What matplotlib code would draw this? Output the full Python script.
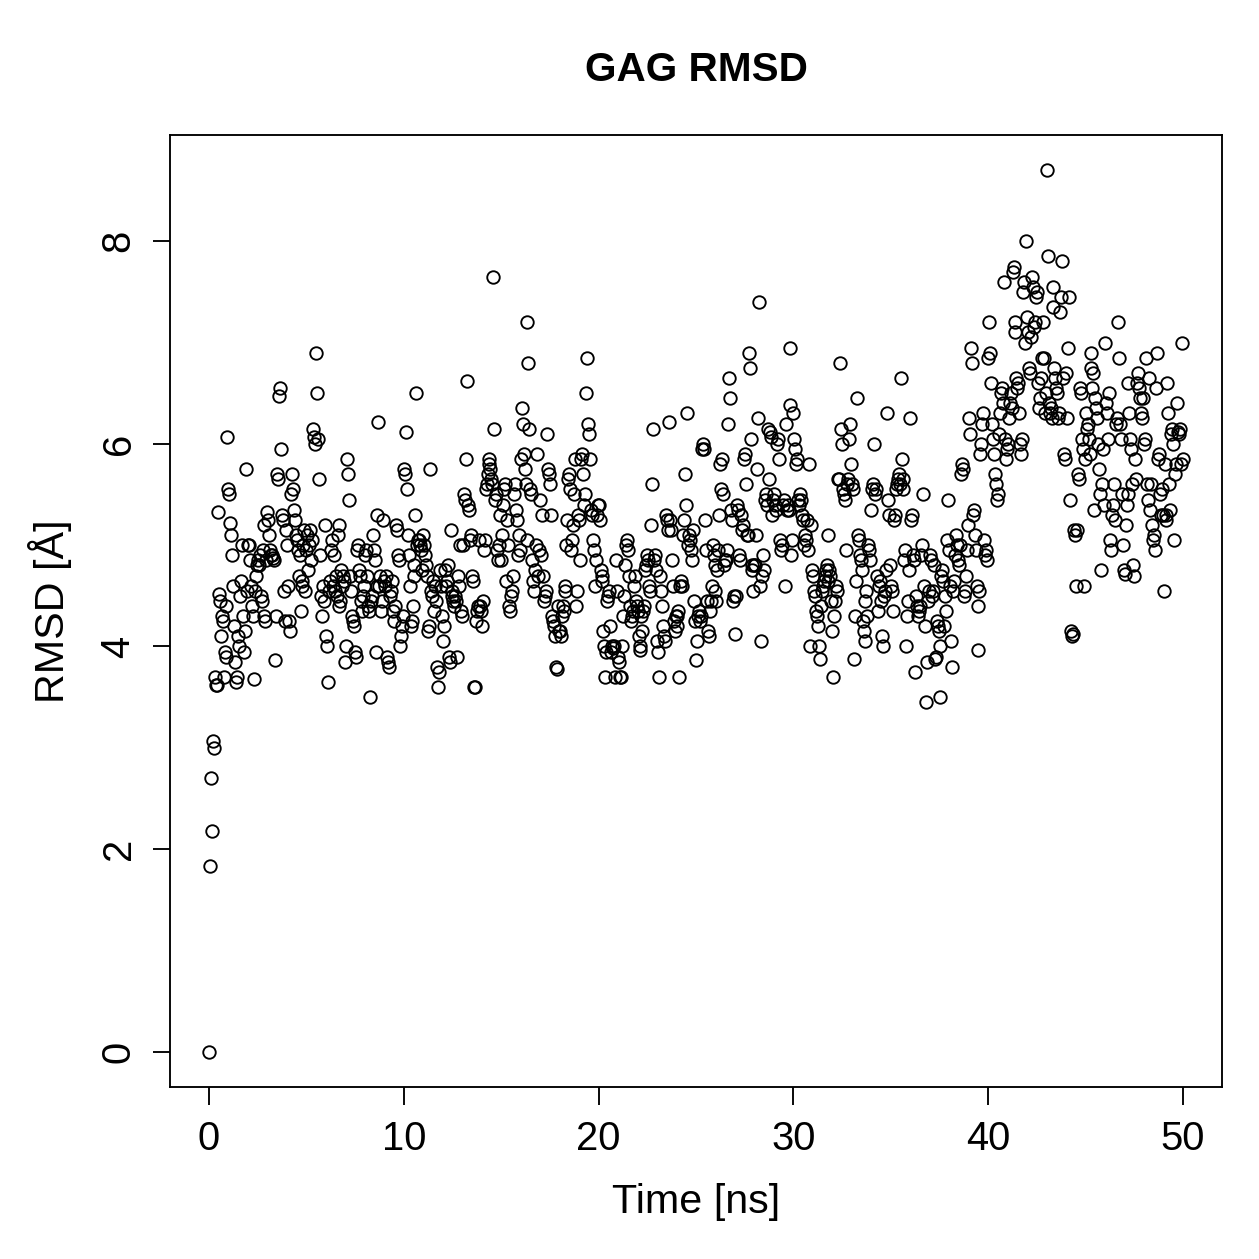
import numpy as np
import matplotlib
matplotlib.use("Agg")
import matplotlib.pyplot as plt

plt.rcParams['font.family'] = ['Liberation Sans', 'DejaVu Sans']

title = "GAG RMSD"
xlabel = "Time [ns]"
ylabel = "RMSD [Å]"
x_ticks = [0, 10, 20, 30, 40, 50]
y_ticks = [0, 2, 4, 6, 8]
frame_step_ns = 0.05

# RMSD values, one row per nanosecond (frames every 0.05 ns)
rmsd_00_10 = [
    [0, 1.83, 2.7, 2.18, 3.07, 3.0, 3.7, 3.62, 3.62, 5.33, 4.52, 4.45, 4.1, 4.3, 4.25, 3.7, 3.95, 3.9, 4.4, 6.07],
    [5.55, 5.5, 5.22, 5.1, 4.9, 4.6, 4.2, 3.85, 3.65, 3.7, 4.1, 4.0, 4.5, 4.65, 5.0, 4.3, 3.95, 4.15, 5.75, 4.55],
    [5.0, 5.0, 4.85, 4.6, 4.4, 4.3, 3.68, 4.55, 4.7, 4.8, 4.85, 4.8, 4.9, 4.5, 4.45, 4.95, 5.2, 4.3, 4.25, 4.85],
    [5.33, 5.25, 5.1, 4.95, 4.9, 4.9, 4.87, 4.85, 3.87, 4.3, 5.7, 5.65, 6.47, 6.55, 5.95, 5.3, 5.25, 4.55, 4.25, 5.15],
    [5.0, 4.6, 4.25, 4.15, 5.5, 5.7, 5.55, 5.35, 5.25, 5.1, 5.05, 4.95, 4.7, 4.9, 4.35, 4.65, 4.6, 5.0, 5.15, 4.55],
    [4.95, 5.1, 4.75, 5.0, 5.15, 4.85, 5.05, 6.15, 6.07, 6.0, 6.9, 6.5, 6.05, 5.65, 4.9, 4.5, 4.3, 4.6, 4.45, 5.2],
    [4.1, 4.0, 3.65, 4.55, 4.65, 4.95, 5.05, 4.6, 4.9, 4.55, 4.7, 4.5, 5.1, 5.2, 4.4, 4.45, 4.75, 4.6, 4.7, 4.65],
    [3.85, 4.0, 5.85, 5.7, 5.45, 4.7, 4.55, 4.3, 4.25, 4.2, 3.95, 3.9, 4.95, 5.0, 4.75, 4.7, 4.45, 4.35, 4.5, 4.6],
    [4.9, 4.95, 4.7, 4.4, 4.35, 3.5, 4.45, 4.5, 5.1, 4.95, 4.85, 3.95, 4.6, 5.3, 6.22, 4.6, 4.7, 4.35, 4.45, 5.25],
    [4.65, 4.6, 4.7, 3.9, 3.85, 3.8, 4.5, 4.55, 4.65, 4.35, 4.25, 4.4, 5.2, 5.15, 4.9, 4.85, 4.0, 4.1, 4.2, 4.3],
]
rmsd_10_20 = [
    [5.75, 5.7, 6.12, 5.55, 5.1, 4.9, 4.6, 4.2, 4.25, 4.4, 4.8, 4.7, 5.3, 6.5, 5.0, 5.05, 5.05, 5.0, 4.95, 4.75],
    [5.1, 5.0, 4.9, 4.8, 4.7, 4.15, 4.2, 5.75, 4.55, 4.5, 4.65, 4.35, 4.6, 4.45, 3.8, 3.6, 3.75, 4.75, 4.6, 4.3],
    [4.05, 4.2, 4.75, 4.6, 4.65, 4.8, 3.9, 3.85, 5.15, 4.5, 4.55, 4.45, 4.4, 4.5, 4.45, 3.9, 4.7, 4.6, 5.0, 4.35],
    [4.3, 5.0, 5.5, 5.45, 5.85, 6.62, 5.4, 5.35, 5.05, 5.1, 4.7, 4.65, 3.6, 3.6, 4.25, 4.35, 4.4, 5.05, 4.4, 4.35],
    [4.2, 4.45, 4.95, 5.05, 5.55, 5.6, 5.7, 5.8, 5.85, 5.75, 5.65, 5.6, 7.65, 6.15, 5.45, 5.5, 4.95, 4.85, 5.0, 5.3],
    [4.85, 5.1, 5.4, 5.55, 5.6, 4.65, 5.25, 5.0, 4.4, 4.35, 4.5, 4.55, 4.7, 5.5, 5.6, 5.35, 5.25, 4.9, 5.1, 4.95],
    [5.85, 6.35, 6.2, 5.9, 5.75, 5.6, 5.05, 7.2, 6.8, 6.15, 5.55, 5.5, 4.85, 4.65, 4.55, 4.75, 5.0, 5.9, 4.7, 4.95],
    [5.45, 4.9, 5.3, 4.7, 4.45, 4.5, 4.55, 6.1, 5.75, 5.7, 5.6, 5.3, 4.3, 4.25, 4.2, 4.1, 3.8, 3.78, 4.4, 4.15],
    [4.15, 4.1, 4.3, 4.4, 4.35, 4.6, 4.55, 5.0, 5.25, 5.65, 5.7, 5.55, 4.95, 5.05, 5.2, 5.5, 5.85, 4.4, 4.55, 5.3],
    [5.25, 4.85, 5.85, 5.9, 5.7, 5.4, 5.5, 6.5, 6.85, 6.2, 6.1, 5.85, 5.35, 5.3, 5.05, 4.95, 4.6, 4.85, 5.3, 5.4],
]
rmsd_20_30 = [
    [5.4, 5.25, 4.75, 4.65, 4.7, 4.15, 4.0, 3.7, 3.95, 4.45, 4.5, 4.55, 4.2, 3.95, 4.0, 3.98, 4.0, 3.7, 4.85, 4.55],
    [3.9, 3.85, 3.7, 3.7, 4.0, 4.3, 4.5, 4.8, 5.0, 5.05, 4.95, 4.7, 4.4, 4.25, 4.3, 4.35, 4.6, 4.7, 4.45, 4.4],
    [4.35, 4.1, 3.97, 4.0, 4.3, 4.15, 4.35, 4.4, 4.75, 4.8, 4.9, 4.85, 4.6, 4.55, 5.2, 5.6, 6.15, 4.85, 4.9, 4.75],
    [4.05, 3.95, 3.7, 4.7, 4.55, 4.4, 4.2, 4.1, 4.05, 5.3, 5.25, 5.15, 6.22, 5.25, 5.15, 4.85, 4.6, 4.25, 4.15, 4.3],
    [4.2, 4.3, 4.35, 3.7, 4.6, 4.65, 4.6, 5.1, 5.25, 5.7, 5.4, 6.3, 5.0, 5.1, 5.05, 4.95, 4.85, 5.15, 4.45, 4.25],
    [3.87, 4.05, 4.3, 4.35, 4.25, 4.3, 5.95, 6.0, 5.95, 5.25, 4.95, 4.45, 4.15, 4.1, 4.35, 4.45, 4.6, 5.0, 4.9, 4.8],
    [4.55, 4.45, 4.75, 4.95, 5.3, 5.8, 5.55, 5.85, 5.5, 4.8, 4.85, 4.85, 4.95, 6.2, 6.65, 6.45, 5.35, 5.25, 4.45, 4.5],
    [4.12, 4.5, 5.4, 5.35, 4.9, 4.85, 5.3, 5.15, 5.2, 5.85, 5.9, 5.6, 5.1, 5.1, 6.9, 6.75, 6.05, 4.75, 4.8, 4.55],
    [4.8, 4.8, 5.1, 5.75, 6.25, 7.4, 4.6, 4.05, 4.7, 4.9, 4.75, 5.45, 5.5, 5.4, 6.15, 5.65, 6.12, 6.07, 5.3, 5.45],
    [5.5, 5.4, 5.35, 6.0, 6.05, 5.85, 5.05, 4.95, 5.0, 5.4, 5.45, 4.6, 6.2, 5.35, 5.4, 5.35, 6.38, 6.95, 4.9, 5.05],
]
rmsd_30_40 = [
    [6.3, 6.05, 5.95, 5.8, 5.85, 5.45, 5.4, 5.5, 5.45, 5.3, 5.25, 5.0, 5.1, 5.05, 5.25, 4.95, 5.8, 4.0, 5.2, 4.75],
    [4.7, 4.55, 4.5, 4.35, 4.3, 4.2, 4.0, 3.88, 4.4, 4.55, 4.6, 4.65, 4.7, 4.75, 4.8, 5.1, 4.65, 4.75, 4.7, 4.45],
    [4.15, 3.7, 4.3, 4.45, 4.6, 4.55, 5.65, 5.65, 6.8, 6.15, 6.0, 5.55, 5.5, 5.45, 4.95, 5.6, 5.65, 6.05, 6.2, 5.8],
    [5.6, 5.55, 3.88, 4.3, 4.65, 6.45, 5.1, 5.05, 4.9, 4.85, 4.75, 4.25, 4.15, 4.05, 4.45, 4.55, 4.3, 5.0, 4.95, 4.85],
    [5.35, 5.55, 5.6, 6.0, 5.5, 5.55, 4.7, 4.35, 4.6, 4.65, 4.45, 4.1, 4.0, 4.5, 4.55, 4.75, 6.3, 5.45, 5.3, 4.8],
    [4.6, 4.55, 4.35, 5.25, 5.3, 5.55, 5.6, 5.65, 5.7, 5.6, 6.65, 5.85, 5.65, 5.55, 4.85, 4.95, 4.0, 4.3, 4.45, 4.75],
    [6.25, 5.25, 5.3, 4.9, 4.85, 3.75, 4.5, 4.4, 4.3, 4.35, 4.4, 4.9, 5.0, 5.5, 4.6, 4.2, 3.45, 3.85, 4.45, 4.55],
    [4.9, 4.85, 4.5, 4.55, 4.8, 3.88, 3.9, 4.25, 4.2, 4.15, 4.0, 3.5, 4.7, 4.75, 4.65, 4.2, 4.5, 4.35, 5.05, 5.45],
    [4.95, 4.6, 4.05, 3.8, 4.55, 4.65, 4.9, 5.1, 5.0, 4.85, 4.8, 5.0, 5.7, 5.8, 5.75, 4.5, 4.55, 4.7, 4.95, 5.2],
    [6.25, 6.1, 6.95, 6.8, 5.3, 5.35, 5.1, 4.95, 4.6, 3.97, 4.4, 4.55, 5.9, 6.0, 6.2, 6.3, 5.05, 4.9, 4.95, 4.85],
]
rmsd_40_50 = [
    [6.85, 7.2, 6.9, 6.6, 6.2, 6.05, 5.9, 5.7, 5.6, 5.45, 5.5, 6.1, 6.3, 6.5, 6.55, 6.4, 7.6, 6.05, 5.85, 5.95],
    [6.0, 6.25, 6.4, 6.5, 6.35, 7.7, 7.75, 7.2, 7.1, 6.65, 6.55, 6.6, 6.3, 6.0, 5.9, 6.05, 7.5, 7.6, 7.0, 8.0],
    [7.25, 7.1, 6.75, 6.7, 7.05, 7.65, 7.55, 7.15, 7.2, 7.45, 7.5, 6.6, 6.35, 6.45, 6.65, 6.85, 7.2, 6.85, 6.3, 6.5],
    [8.7, 7.85, 6.4, 6.3, 6.35, 6.25, 7.55, 7.35, 6.75, 6.65, 6.55, 6.5, 6.25, 6.3, 7.3, 7.45, 7.8, 6.65, 5.9, 5.85],
    [6.7, 6.25, 6.95, 7.45, 5.45, 4.15, 4.1, 4.12, 5.15, 5.1, 4.6, 5.15, 5.7, 5.65, 6.55, 6.5, 6.05, 5.95, 4.6, 5.85],
    [6.3, 6.15, 6.2, 6.05, 5.9, 6.75, 6.9, 6.55, 6.7, 5.35, 6.45, 6.35, 6.25, 6.0, 5.75, 5.5, 4.75, 5.6, 5.95, 5.4],
    [7.0, 6.4, 6.3, 6.05, 6.5, 5.05, 4.95, 5.3, 5.4, 5.6, 5.25, 6.2, 6.25, 7.2, 6.85, 6.2, 6.05, 5.5, 5.0, 4.75],
    [4.72, 5.2, 5.4, 5.5, 6.6, 6.3, 6.05, 5.95, 5.6, 4.8, 4.7, 5.85, 5.65, 6.6, 6.7, 6.55, 6.45, 6.3, 6.25, 6.45],
    [6.0, 6.05, 6.85, 5.6, 5.45, 6.65, 5.35, 5.6, 5.2, 5.05, 5.1, 4.95, 6.55, 6.9, 5.85, 5.9, 5.5, 5.3, 5.55, 5.3],
    [4.55, 5.8, 5.3, 5.25, 6.6, 6.3, 5.6, 5.35, 6.1, 6.15, 6.0, 5.05, 5.7, 5.8, 6.4, 6.12, 6.1, 6.15, 5.8, 7.0],
]
rmsd_last = [5.85]

# assemble time / rmsd series
times, values = [], []
for block_start, block in ((0, rmsd_00_10), (10, rmsd_10_20), (20, rmsd_20_30),
                           (30, rmsd_30_40), (40, rmsd_40_50)):
    for i, row in enumerate(block):
        for j, v in enumerate(row):
            times.append(block_start + i + j * frame_step_ns)
            values.append(v)
times.append(50.0)
values.extend(rmsd_last)
times = np.array(times)
values = np.array(values)

DPI = 180
fig = plt.figure(figsize=(1259 / DPI, 1259 / DPI), dpi=DPI)
ax = fig.add_axes([170 / 1259, 1 - 1087 / 1259, (1222 - 170) / 1259, (1087 - 135) / 1259])

ax.plot(times, values, linestyle='none', marker='o', markersize=5.0,
        markerfacecolor='none', markeredgecolor='black', markeredgewidth=0.75)

ax.set_xlim(-2, 52)
ax.set_ylim(-0.348, 9.048)
ax.set_xticks(x_ticks)
ax.set_yticks(y_ticks)
ax.set_xticklabels([str(t) for t in x_ticks])
ax.set_yticklabels([str(t) for t in y_ticks], rotation=90, va='center')
ax.tick_params(direction='out', length=7, width=0.75, labelsize=16, pad=6, colors='black')
for s in ax.spines.values():
    s.set_linewidth(0.75)

fig.text(696 / 1259, 1 - 70 / 1259, title, ha='center', va='center', fontsize=16.2, fontweight='bold')
fig.text(696 / 1259, 1 - 1202 / 1259, xlabel, ha='center', va='center', fontsize=16.5)
fig.text(50 / 1259, 1 - 611 / 1259, ylabel, ha='center', va='center', fontsize=16.5, rotation=90)

fig.savefig("out.png", dpi=DPI)
